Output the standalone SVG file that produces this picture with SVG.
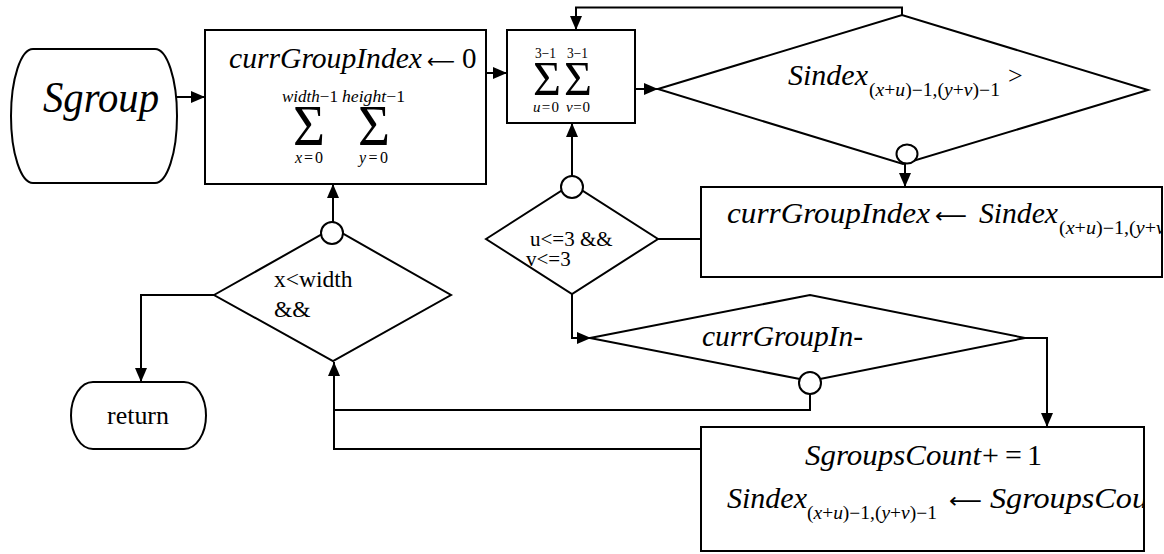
<svg xmlns="http://www.w3.org/2000/svg" width="1164" height="554" viewBox="0 0 1164 554">
<defs>
<marker id="ah" viewBox="0 0 14 12" refX="14" refY="6" markerWidth="14" markerHeight="12" markerUnits="userSpaceOnUse" orient="auto"><path d="M0,0 L14,6 L0,12 Z" fill="#000"/></marker>
<clipPath id="c3"><rect x="701" y="187" width="461" height="90"/></clipPath>
<clipPath id="c4"><rect x="701" y="427" width="443" height="124"/></clipPath>
</defs>
<style>
.s{fill:#fff;stroke:#000;stroke-width:2}
.ln{fill:none;stroke:#000;stroke-width:2}
.a{marker-end:url(#ah)}
text{font-family:"Liberation Serif","Times New Roman",serif;fill:#000}
.i{font-style:italic}
.ar{font-family:"DejaVu Sans","Liberation Sans",sans-serif}
</style>
<rect width="1164" height="554" fill="#fff"/>
<g id="connectors">
<path class="ln a" d="M177,97 H205"/>
<path class="ln a" d="M486,73 H507"/>
<path class="ln a" d="M635,89 H658"/>
<path class="ln a" d="M902,15 V7.5 H576 V30"/>
<path class="ln a" d="M905,164 V187"/>
<path class="ln a" d="M572,176 V123"/>
<path class="ln" d="M658,239 H701"/>
<path class="ln a" d="M572,294 V338 H591"/>
<path class="ln a" d="M1025,338 H1047 V427"/>
<path class="ln a" d="M810,394 V410 H334 V362"/>
<path class="ln" d="M701,449 H334 V410"/>
<path class="ln a" d="M333,222 V184"/>
<path class="ln a" d="M214,295 H141 V382"/>
</g>
<g id="sgroup">
<path class="s" d="M33,49 H155 A22,67 0 0 1 155,183 H33 A22,67 0 0 1 33,49 Z"/>
<text class="i" x="43" y="112" font-size="44" textLength="116" lengthAdjust="spacingAndGlyphs">Sgroup</text>
</g>
<g id="init">
<rect class="s" x="205" y="30" width="281" height="154"/>
<text class="i" x="229" y="68" font-size="29" textLength="193" lengthAdjust="spacingAndGlyphs">currGroupIndex</text>
<text class="ar" x="427" y="68" font-size="20" textLength="28" lengthAdjust="spacingAndGlyphs">⟵</text>
<text x="462" y="68" font-size="29">0</text>
<text x="282" y="102" font-size="16" textLength="56" lengthAdjust="spacingAndGlyphs"><tspan class="i">width</tspan>−1</text>
<text x="342" y="102" font-size="16" textLength="63" lengthAdjust="spacingAndGlyphs"><tspan class="i">height</tspan>−1</text>
<text x="293" y="145" font-size="58" textLength="32" lengthAdjust="spacingAndGlyphs">Σ</text>
<text x="358" y="145" font-size="58" textLength="32" lengthAdjust="spacingAndGlyphs">Σ</text>
<text x="295" y="163" font-size="16" textLength="28" lengthAdjust="spacing"><tspan class="i">x</tspan>=0</text>
<text x="359" y="163" font-size="16" textLength="29" lengthAdjust="spacing"><tspan class="i">y</tspan>=0</text>
</g>
<g id="inner-loop">
<rect class="s" x="507" y="30" width="128" height="93"/>
<text x="535" y="58" font-size="14" textLength="21" lengthAdjust="spacingAndGlyphs">3−1</text>
<text x="567" y="58" font-size="14" textLength="21" lengthAdjust="spacingAndGlyphs">3−1</text>
<text x="533" y="95" font-size="49" textLength="28" lengthAdjust="spacingAndGlyphs">Σ</text>
<text x="564" y="95" font-size="49" textLength="28" lengthAdjust="spacingAndGlyphs">Σ</text>
<text x="533" y="112" font-size="15" textLength="26" lengthAdjust="spacing"><tspan class="i">u</tspan>=0</text>
<text x="566" y="112" font-size="15" textLength="24" lengthAdjust="spacing"><tspan class="i">v</tspan>=0</text>
</g>
<g id="cond-sindex">
<polygon class="s" points="658,89 902,15 1148,90 903,164"/>
<ellipse class="s" cx="907" cy="154" rx="10.5" ry="9.5"/>
<text class="i" x="788" y="85" font-size="30" textLength="80" lengthAdjust="spacingAndGlyphs">Sindex</text>
<text x="869" y="96" font-size="18" textLength="131" lengthAdjust="spacingAndGlyphs">(<tspan class="i">x</tspan>+<tspan class="i">u</tspan>)−1,(<tspan class="i">y</tspan>+<tspan class="i">v</tspan>)−1</text>
<text x="1008" y="84" font-size="26">&gt;</text>
</g>
<g id="assign-index">
<rect class="s" x="701" y="187" width="461" height="90"/>
<g clip-path="url(#c3)">
<text class="i" x="727" y="223" font-size="30" textLength="203" lengthAdjust="spacingAndGlyphs">currGroupIndex</text>
<text class="ar" x="935" y="223" font-size="21" textLength="32" lengthAdjust="spacingAndGlyphs">⟵</text>
<text class="i" x="979" y="223" font-size="30" textLength="79" lengthAdjust="spacingAndGlyphs">Sindex</text>
<text x="1059" y="234" font-size="18" textLength="106" lengthAdjust="spacingAndGlyphs">(<tspan class="i">x</tspan>+<tspan class="i">u</tspan>)−1,(<tspan class="i">y</tspan>+<tspan class="i">v</tspan></text>
</g>
</g>
<g id="cond-uv">
<polygon class="s" points="486,239 572,184 658,239 572,294"/>
<circle class="s" cx="572" cy="187" r="11"/>
<text x="530" y="246" font-size="21">u&lt;=3 &amp;&amp;</text>
<text x="526" y="266" font-size="21">v&lt;=3</text>
</g>
<g id="cond-x">
<polygon class="s" points="214,295 333,228 451,295 333,361"/>
<circle class="s" cx="332" cy="233" r="11"/>
<text x="274" y="287" font-size="23.5">x&lt;width</text>
<text x="274" y="317" font-size="23.5">&amp;&amp;</text>
</g>
<g id="return">
<path class="s" d="M93,382 H184 A22,33.5 0 0 1 184,449 H93 A22,33.5 0 0 1 93,382 Z"/>
<text x="107" y="424" font-size="25" textLength="62" lengthAdjust="spacingAndGlyphs">return</text>
</g>
<g id="cond-group">
<polygon class="s" points="590,338 810,295 1025,338 810,381"/>
<circle class="s" cx="810" cy="383" r="11"/>
<text class="i" x="702" y="346" font-size="29" textLength="161" lengthAdjust="spacingAndGlyphs">currGroupIn-</text>
</g>
<g id="count">
<rect class="s" x="701" y="427" width="443" height="124"/>
<g clip-path="url(#c4)">
<text class="i" x="805" y="465" font-size="30" textLength="176" lengthAdjust="spacingAndGlyphs">SgroupsCount</text>
<text x="982" y="465" font-size="30">+</text>
<text x="1005" y="465" font-size="30">=</text>
<text x="1027" y="465" font-size="30">1</text>
<text class="i" x="727" y="508" font-size="30" textLength="80" lengthAdjust="spacingAndGlyphs">Sindex</text>
<text x="807" y="519" font-size="18" textLength="130" lengthAdjust="spacingAndGlyphs">(<tspan class="i">x</tspan>+<tspan class="i">u</tspan>)−1,(<tspan class="i">y</tspan>+<tspan class="i">v</tspan>)−1</text>
<text class="ar" x="949" y="508" font-size="21" textLength="33" lengthAdjust="spacingAndGlyphs">⟵</text>
<text class="i" x="990" y="508" font-size="30" textLength="158" lengthAdjust="spacingAndGlyphs">SgroupsCou</text>
</g>
</g>
</svg>
